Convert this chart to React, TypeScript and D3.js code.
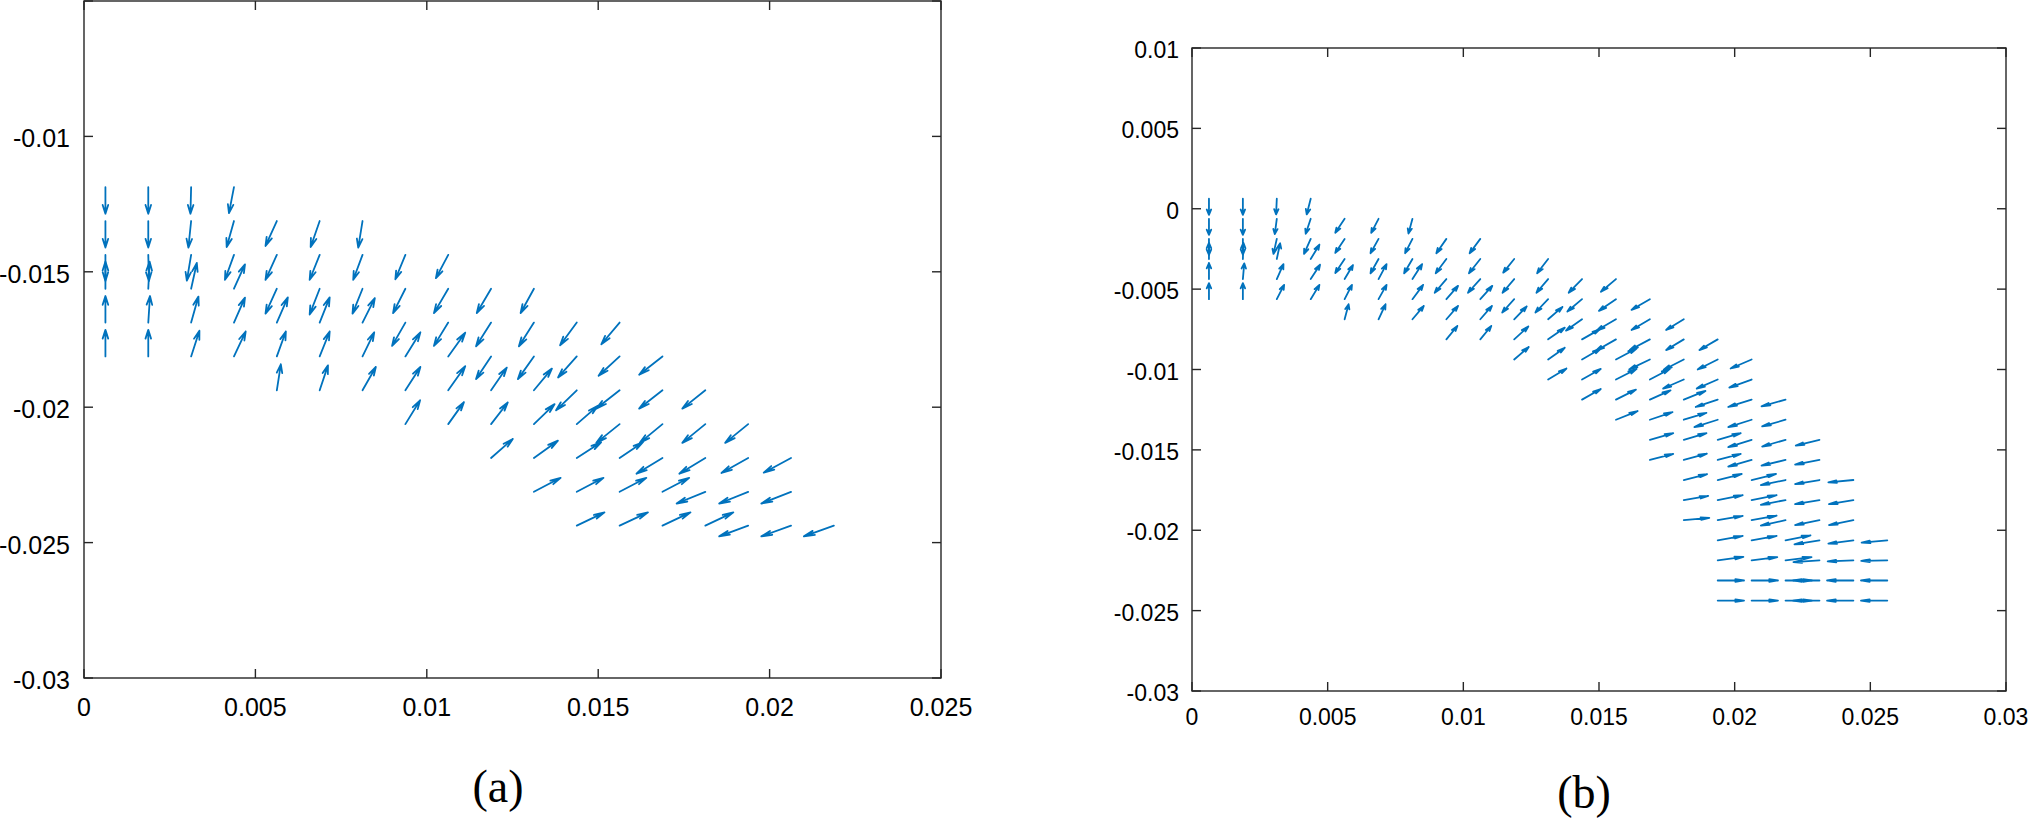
import React from 'react';
import * as d3 from 'd3';

// Values are stored in millimetres (data unit = metre, 1 mm = 1e-3)
const MM = 1e-3;

// ---- Panel (a) ----
const aXTicks = [0, 0.005, 0.01, 0.015, 0.02, 0.025];
const aYTicks = [-0.03, -0.025, -0.02, -0.015, -0.01];
const aXDomain = [0, 0.025];
const aYDomain = [-0.03, -0.005];

// [tail x, tail y, u, v] (mm)
const arrowsA: number[][] = [
  [0.625, -11.875, 0, -0.98], [0.625, -13.125, 0, -0.98], [0.625, -14.375, 0, -0.96],
  [0.625, -15.625, 0, 1.0], [0.625, -16.875, 0, 0.98], [0.625, -18.125, 0, 0.98],
  [1.875, -11.875, 0, -0.98], [1.875, -13.125, 0, -0.98], [1.875, -14.375, 0.02, -0.96],
  [1.875, -15.625, 0.04, 1.0], [1.875, -16.875, 0.05, 0.98], [1.875, -18.125, 0, 0.98],
  [3.125, -11.875, -0.02, -0.98], [3.125, -13.125, -0.08, -0.98], [3.125, -14.375, -0.125, -0.95],
  [3.125, -15.625, 0.166, 0.95], [3.125, -16.875, 0.213, 0.96], [3.125, -18.125, 0.242, 0.95],
  [4.375, -11.875, -0.146, -0.96], [4.375, -13.125, -0.213, -0.96], [4.375, -14.375, -0.263, -0.92],
  [4.375, -15.625, 0.321, 0.9], [4.375, -16.875, 0.321, 0.92], [4.375, -18.125, 0.341, 0.92],
  [5.625, -13.125, -0.33, -0.92], [5.625, -14.375, -0.33, -0.92], [5.625, -15.625, -0.33, -0.92],
  [5.625, -16.875, 0.321, 0.93], [5.625, -18.125, 0.263, 0.92], [5.625, -19.375, 0.117, 0.96],
  [6.875, -13.125, -0.263, -0.96], [6.875, -14.375, -0.292, -0.92], [6.875, -15.625, -0.292, -0.95],
  [6.875, -16.875, 0.292, 0.93], [6.875, -18.125, 0.292, 0.92], [6.875, -19.375, 0.242, 0.92],
  [8.125, -13.125, -0.125, -0.98], [8.125, -14.375, -0.271, -0.92], [8.125, -15.625, -0.292, -0.92],
  [8.125, -16.875, 0.359, 0.9], [8.125, -18.125, 0.341, 0.89], [8.125, -19.375, 0.388, 0.86],
  [9.375, -14.375, -0.292, -0.9], [9.375, -15.625, -0.359, -0.9], [9.375, -16.875, -0.388, -0.86],
  [9.375, -18.125, 0.438, 0.89], [9.375, -19.375, 0.438, 0.86], [9.375, -20.625, 0.429, 0.88],
  [10.625, -14.375, -0.359, -0.86], [10.625, -15.625, -0.417, -0.9], [10.625, -16.875, -0.417, -0.86],
  [10.625, -18.125, 0.496, 0.875], [10.625, -19.375, 0.496, 0.886], [10.625, -20.625, 0.458, 0.812],
  [11.875, -15.625, -0.417, -0.897], [11.875, -16.875, -0.438, -0.875], [11.875, -18.125, -0.438, -0.838],
  [11.875, -19.375, 0.458, 0.838], [11.875, -20.625, 0.487, 0.801], [11.875, -21.875, 0.633, 0.702],
  [13.125, -15.625, -0.388, -0.897], [13.125, -16.875, -0.438, -0.875], [13.125, -18.125, -0.467, -0.838],
  [13.125, -19.375, 0.525, 0.801], [13.125, -20.625, 0.604, 0.739], [13.125, -21.875, 0.7, 0.639],
  [13.125, -23.125, 0.779, 0.517],
  [14.375, -16.875, -0.487, -0.838], [14.375, -18.125, -0.545, -0.776], [14.375, -19.375, -0.604, -0.739],
  [14.375, -20.625, 0.613, 0.676], [14.375, -21.875, 0.709, 0.58], [14.375, -23.125, 0.779, 0.517],
  [14.375, -24.375, 0.808, 0.491],
  [15.625, -16.875, -0.534, -0.801], [15.625, -18.125, -0.613, -0.713], [15.625, -19.375, -0.68, -0.676],
  [15.625, -20.625, -0.68, -0.691], [15.625, -21.875, 0.68, 0.58], [15.625, -23.125, 0.779, 0.517],
  [15.625, -24.375, 0.826, 0.491],
  [16.875, -18.125, -0.68, -0.676], [16.875, -19.375, -0.68, -0.676], [16.875, -20.625, -0.662, -0.691],
  [16.875, -21.875, -0.758, -0.58], [16.875, -23.125, 0.779, 0.517], [16.875, -24.375, 0.817, 0.491],
  [18.125, -19.375, -0.671, -0.676], [18.125, -20.625, -0.671, -0.691], [18.125, -21.875, -0.758, -0.58],
  [18.125, -23.125, -0.837, -0.432], [18.125, -24.375, 0.817, 0.491],
  [19.375, -20.625, -0.671, -0.691], [19.375, -21.875, -0.779, -0.554], [19.375, -23.125, -0.846, -0.432],
  [19.375, -24.375, -0.846, -0.395],
  [20.625, -21.875, -0.796, -0.543], [20.625, -23.125, -0.866, -0.432], [20.625, -24.375, -0.866, -0.395],
  [21.875, -24.375, -0.875, -0.395],
];

// ---- Panel (b) ----
const bXTicks = [0, 0.005, 0.01, 0.015, 0.02, 0.025, 0.03];
const bYTicks = [-0.03, -0.025, -0.02, -0.015, -0.01, -0.005, 0, 0.005, 0.01];
const bXDomain = [0, 0.03];
const bYDomain = [-0.03, 0.01];

const arrowsB: number[][] = [
  [0.625, 0.625, 0, -1], [0.625, -0.625, 0, -1], [0.625, -1.875, 0, -1],
  [0.625, -3.125, 0, 1], [0.625, -4.375, 0, 1], [0.625, -5.625, 0, 1],
  [1.875, 0.625, 0, -1], [1.875, -0.625, 0, -1], [1.875, -1.875, 0, -0.98],
  [1.875, -3.125, 0.02, 1], [1.875, -4.375, 0.05, 0.98], [1.875, -5.625, 0, 1],
  [3.125, 0.625, -0.025, -0.975], [3.125, -0.625, -0.074, -0.95], [3.125, -1.875, -0.123, -0.933],
  [3.125, -3.125, 0.123, 0.975], [3.125, -4.375, 0.246, 0.933], [3.125, -5.625, 0.27, 0.89],
  [4.375, 0.625, -0.147, -0.975], [4.375, -0.625, -0.184, -0.93], [4.375, -1.875, -0.246, -0.933],
  [4.375, -3.125, 0.32, 0.89], [4.375, -4.375, 0.344, 0.89], [4.375, -5.625, 0.32, 0.89],
  [5.625, -0.625, -0.344, -0.871], [5.625, -1.875, -0.344, -0.871], [5.625, -3.125, -0.344, -0.871],
  [5.625, -4.375, 0.307, 0.871], [5.625, -5.625, 0.27, 0.89], [5.625, -6.875, 0.147, 0.933],
  [6.875, -0.625, -0.27, -0.871], [6.875, -1.875, -0.295, -0.89], [6.875, -3.125, -0.295, -0.89],
  [6.875, -4.375, 0.295, 0.933], [6.875, -5.625, 0.295, 0.89], [6.875, -6.875, 0.258, 0.933],
  [8.125, -0.625, -0.147, -0.914], [8.125, -1.875, -0.27, -0.89], [8.125, -3.125, -0.307, -0.89],
  [8.125, -4.375, 0.356, 0.933], [8.125, -5.625, 0.393, 0.89], [8.125, -6.875, 0.418, 0.829],
  [9.375, -1.875, -0.369, -0.89], [9.375, -3.125, -0.393, -0.89], [9.375, -4.375, -0.43, -0.85],
  [9.375, -5.625, 0.43, 0.829], [9.375, -6.875, 0.43, 0.829], [9.375, -8.125, 0.405, 0.829],
  [10.625, -1.875, -0.393, -0.89], [10.625, -3.125, -0.418, -0.89], [10.625, -4.375, -0.454, -0.85],
  [10.625, -5.625, 0.442, 0.829], [10.625, -6.875, 0.43, 0.829], [10.625, -8.125, 0.405, 0.829],
  [11.875, -3.125, -0.405, -0.851], [11.875, -4.375, -0.43, -0.851], [11.875, -5.625, -0.442, -0.829],
  [11.875, -6.875, 0.46, 0.8], [11.875, -8.125, 0.52, 0.8], [11.875, -9.375, 0.535, 0.775],
  [13.125, -3.125, -0.405, -0.892], [13.125, -4.375, -0.43, -0.85], [13.125, -5.625, -0.467, -0.829],
  [13.125, -6.875, 0.528, 0.767], [13.125, -8.125, 0.614, 0.726], [13.125, -9.375, 0.614, 0.726],
  [13.125, -10.625, 0.675, 0.684],
  [14.375, -4.375, -0.491, -0.85], [14.375, -5.625, -0.54, -0.767], [14.375, -6.875, -0.59, -0.705],
  [14.375, -8.125, 0.65, 0.62], [14.375, -9.375, 0.68, 0.66], [14.375, -10.625, 0.69, 0.66],
  [14.375, -11.875, 0.69, 0.66],
  [15.625, -4.375, -0.553, -0.788], [15.625, -5.625, -0.626, -0.726], [15.625, -6.875, -0.712, -0.705],
  [15.625, -8.125, -0.737, -0.705], [15.625, -9.375, 0.761, 0.68], [15.625, -10.625, 0.761, 0.66],
  [15.625, -11.875, 0.737, 0.622], [15.625, -13.125, 0.798, 0.54],
  [16.875, -5.625, -0.675, -0.664], [16.875, -6.875, -0.675, -0.664], [16.875, -8.125, -0.74, -0.66],
  [16.875, -9.375, -0.76, -0.62], [16.875, -10.625, 0.737, 0.66], [16.875, -11.875, 0.761, 0.58],
  [16.875, -13.125, 0.835, 0.477], [16.875, -14.375, 0.86, 0.415], [16.875, -15.625, 0.86, 0.373],
  [18.125, -6.875, -0.651, -0.664], [18.125, -8.125, -0.651, -0.664], [18.125, -9.375, -0.74, -0.64],
  [18.125, -10.625, -0.761, -0.56], [18.125, -11.875, 0.798, 0.54], [18.125, -13.125, 0.835, 0.43],
  [18.125, -14.375, 0.835, 0.415], [18.125, -15.625, 0.85, 0.39], [18.125, -16.875, 0.86, 0.37],
  [18.125, -18.125, 0.9, 0.26], [18.125, -19.375, 0.94, 0.15],
  [19.375, -8.125, -0.675, -0.664], [19.375, -9.375, -0.737, -0.622], [19.375, -10.625, -0.774, -0.56],
  [19.375, -11.875, -0.81, -0.456], [19.375, -13.125, -0.86, -0.456], [19.375, -14.375, 0.848, 0.415],
  [19.375, -15.625, 0.848, 0.373], [19.375, -16.875, 0.884, 0.373], [19.375, -18.125, 0.921, 0.311],
  [19.375, -19.375, 0.921, 0.27], [19.375, -20.625, 0.921, 0.28], [19.375, -21.875, 0.946, 0.22],
  [19.375, -23.125, 0.97, 0], [19.375, -24.375, 0.97, 0],
  [20.625, -9.375, -0.774, -0.56], [20.625, -10.625, -0.822, -0.498], [20.625, -11.875, -0.86, -0.456],
  [20.625, -13.125, -0.86, -0.456], [20.625, -14.375, -0.86, -0.456], [20.625, -15.625, -0.86, -0.415],
  [20.625, -16.875, 0.897, 0.373], [20.625, -18.125, 0.921, 0.311], [20.625, -19.375, 0.921, 0.29],
  [20.625, -20.625, 0.921, 0.28], [20.625, -21.875, 0.946, 0.207], [20.625, -23.125, 0.97, 0],
  [20.625, -24.375, 0.97, 0],
  [21.875, -11.875, -0.884, -0.415], [21.875, -13.125, -0.86, -0.415], [21.875, -14.375, -0.86, -0.415],
  [21.875, -15.625, -0.884, -0.353], [21.875, -16.875, -0.909, -0.311], [21.875, -18.125, -0.909, -0.29],
  [21.875, -19.375, -0.909, -0.33], [21.875, -20.625, 0.921, 0.311], [21.875, -21.875, 0.958, 0.207],
  [21.875, -23.125, 0.97, 0], [21.875, -24.375, 0.97, 0],
  [23.125, -14.375, -0.873, -0.353], [23.125, -15.625, -0.897, -0.29], [23.125, -16.875, -0.897, -0.249],
  [23.125, -18.125, -0.897, -0.249], [23.125, -19.375, -0.897, -0.3], [23.125, -20.625, -0.921, -0.249],
  [23.125, -21.875, -0.958, -0.104], [23.125, -23.125, -0.97, 0], [23.125, -24.375, -0.97, 0],
  [24.375, -16.875, -0.921, -0.145], [24.375, -18.125, -0.897, -0.249], [24.375, -19.375, -0.897, -0.3],
  [24.375, -20.625, -0.921, -0.207], [24.375, -21.875, -0.946, -0.062], [24.375, -23.125, -0.97, 0],
  [24.375, -24.375, -0.97, 0],
  [25.625, -20.625, -0.946, -0.145], [25.625, -21.875, -0.96, -0.03], [25.625, -23.125, -0.97, 0],
  [25.625, -24.375, -0.97, 0],
];

const ARROW_COLOR = '#0072BD';
const AXIS_COLOR = '#262626';

const fmt = (v: number) => String(+v.toFixed(4));

interface PanelProps {
  arrows: number[][];
  xDomain: number[];
  yDomain: number[];
  xTicks: number[];
  yTicks: number[];
  left: number; right: number; top: number; bottom: number;
  fontSize: number;
  xLabelDy: number;
  yLabelDx: number;
  yLabelDy: number;
  caption: string;
  capX: number;
  capY: number;
}

function QuiverPanel(p: PanelProps) {
  const x = d3.scaleLinear().domain(p.xDomain).range([p.left, p.right]);
  const y = d3.scaleLinear().domain(p.yDomain).range([p.bottom, p.top]);
  const tick = 9;
  const alpha = 0.33;
  const beta = 0.25;
  const allXT = d3.range(p.xDomain[0], p.xDomain[1] + 1e-9, 0.005);
  const allYT = d3.range(p.yDomain[0], p.yDomain[1] + 1e-9, 0.005);

  const paths = p.arrows.map((a, i) => {
    const x0 = a[0] * MM, y0 = a[1] * MM, u = a[2] * MM, v = a[3] * MM;
    const hx = x0 + u, hy = y0 + v;
    const w1x = hx - alpha * (u + beta * v), w1y = hy - alpha * (v - beta * u);
    const w2x = hx - alpha * (u - beta * v), w2y = hy - alpha * (v + beta * u);
    const d = `M${x(x0)},${y(y0)}L${x(hx)},${y(hy)}M${x(w1x)},${y(w1y)}L${x(hx)},${y(hy)}L${x(w2x)},${y(w2y)}`;
    return <path key={i} d={d} fill="none" stroke={ARROW_COLOR} strokeWidth={1.8} strokeLinejoin="round" strokeLinecap="round" />;
  });

  return (
    <g>
      <g>{paths}</g>
      <rect x={p.left} y={p.top} width={p.right - p.left} height={p.bottom - p.top} fill="none" stroke={AXIS_COLOR} strokeWidth={1.4} />
      {allXT.map((t, i) => (
        <g key={'xt' + i}>
          <line x1={x(t)} x2={x(t)} y1={p.bottom} y2={p.bottom - tick} stroke={AXIS_COLOR} strokeWidth={1.4} />
          <line x1={x(t)} x2={x(t)} y1={p.top} y2={p.top + tick} stroke={AXIS_COLOR} strokeWidth={1.4} />
        </g>
      ))}
      {allYT.map((t, i) => (
        <g key={'yt' + i}>
          <line x1={p.left} x2={p.left + tick} y1={y(t)} y2={y(t)} stroke={AXIS_COLOR} strokeWidth={1.4} />
          <line x1={p.right} x2={p.right - tick} y1={y(t)} y2={y(t)} stroke={AXIS_COLOR} strokeWidth={1.4} />
        </g>
      ))}
      {p.xTicks.map((t, i) => (
        <text key={'xl' + i} x={x(t)} y={p.bottom + p.xLabelDy} textAnchor="middle"
          fontFamily="'Liberation Sans', Arial, Helvetica, sans-serif" fontSize={p.fontSize} fill="#000">{fmt(t)}</text>
      ))}
      {p.yTicks.map((t, i) => (
        <text key={'yl' + i} x={p.left - p.yLabelDx} y={y(t) + p.yLabelDy} textAnchor="end"
          fontFamily="'Liberation Sans', Arial, Helvetica, sans-serif" fontSize={p.fontSize} fill="#000">{fmt(t)}</text>
      ))}
      <text x={p.capX} y={p.capY} textAnchor="middle" fontFamily="'Liberation Serif', 'Times New Roman', serif" fontSize={46} fill="#000">{p.caption}</text>
    </g>
  );
}

export default function App() {
  return (
    <svg width={2030} height={820} style={{ position: 'absolute', left: 0, top: 0, background: '#fff' }}>
      <rect x={0} y={0} width={2030} height={820} fill="#fff" />
      <QuiverPanel arrows={arrowsA} xDomain={aXDomain} yDomain={aYDomain} xTicks={aXTicks} yTicks={aYTicks}
        left={84} right={941} top={1} bottom={678} fontSize={25} xLabelDy={38} yLabelDx={14} yLabelDy={11}
        caption="(a)" capX={498} capY={802} />
      <QuiverPanel arrows={arrowsB} xDomain={bXDomain} yDomain={bYDomain} xTicks={bXTicks} yTicks={bYTicks}
        left={1192} right={2006} top={48} bottom={691} fontSize={23} xLabelDy={34} yLabelDx={13} yLabelDy={10}
        caption="(b)" capX={1584} capY={808} />
    </svg>
  );
}
